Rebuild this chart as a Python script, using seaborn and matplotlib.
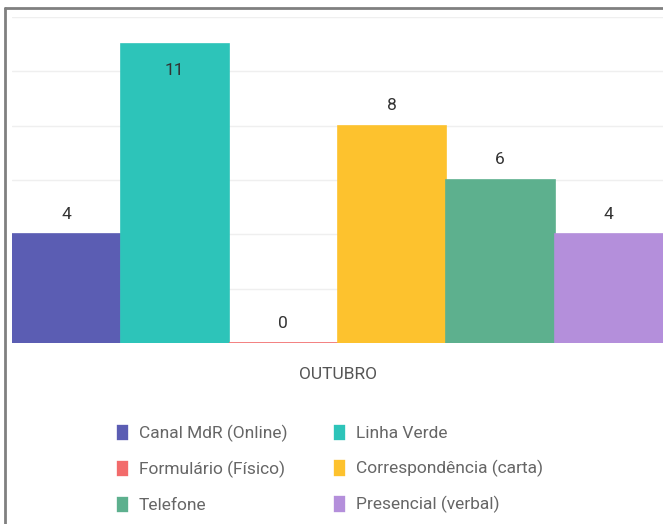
import matplotlib.pyplot as plt
import matplotlib.lines as mlines
import pandas as pd
import seaborn as sns

months = ['OUTUBRO']
channels = ['Canal MdR (Online)', 'Linha Verde', 'Formulário (Físico)',
            'Correspondência (carta)', 'Telefone', 'Presencial (verbal)']
counts = [4, 11, 0, 8, 6, 4]
colors = ['#5b5db3', '#2dc4b9', '#f26b6b', '#fdc22e', '#5db08e', '#b48fdb']

df = pd.DataFrame({'mes': months * len(channels), 'canal': channels, 'n': counts})

sns.set_style('white')
plt.rcParams['font.family'] = ['Roboto', 'DejaVu Sans']

fig = plt.figure(figsize=(6.63, 5.24), dpi=100)
ax = fig.add_axes([12 / 663, 181 / 524, 651 / 663, 326 / 524])

sns.barplot(data=df, x='mes', y='n', hue='canal', hue_order=channels,
            palette=colors, width=1, gap=0, saturation=1, ax=ax,
            linewidth=1.2, legend=True)
for bars in ax.containers:
    for b in bars:
        b.set_edgecolor(b.get_facecolor())

ax.set_xlim(-0.5, 0.5)
ax.set_ylim(0, 12)
ax.set_yticks(range(0, 13, 2))
ax.set_yticklabels([])
ax.yaxis.grid(True, color='#efefef', linewidth=1)
ax.set_axisbelow(True)
sns.despine(ax=ax, left=True, bottom=True)
ax.tick_params(axis='both', length=0)
ax.tick_params(axis='x', pad=17, labelsize=12.5, labelcolor='#555555')
ax.set_xlabel('')
ax.set_ylabel('')

# value labels: above the bar, inside when it would hit the top
for bars in ax.containers:
    for b in bars:
        h = b.get_height()
        off = -26 if h > 10 else 20
        ax.annotate(f'{h:.0f}', (b.get_x() + b.get_width() / 2, h),
                    xytext=(0, off), textcoords='offset pixels',
                    ha='center', va='center', fontsize=12.5, color='#333333')

handles, labels = ax.get_legend_handles_labels()
order = [0, 2, 4, 1, 3, 5]
ax.get_legend().remove()
fig.legend([handles[i] for i in order], [labels[i] for i in order],
           ncol=2, loc='upper left', bbox_to_anchor=(100 / 663, 1 - 408 / 524),
           frameon=False, fontsize=12.5, labelcolor='#666666',
           handlelength=0.75, handleheight=1.2, handletextpad=0.6,
           columnspacing=2.6, labelspacing=1.0)

# frame of the screenshot
fig.add_artist(mlines.Line2D([5 / 663, 5 / 663], [0, 1 - 8 / 524], color='#808080', lw=2))
fig.add_artist(mlines.Line2D([5 / 663, 1], [1 - 8 / 524, 1 - 8 / 524], color='#808080', lw=2))

fig.savefig('out.png', dpi=100)
